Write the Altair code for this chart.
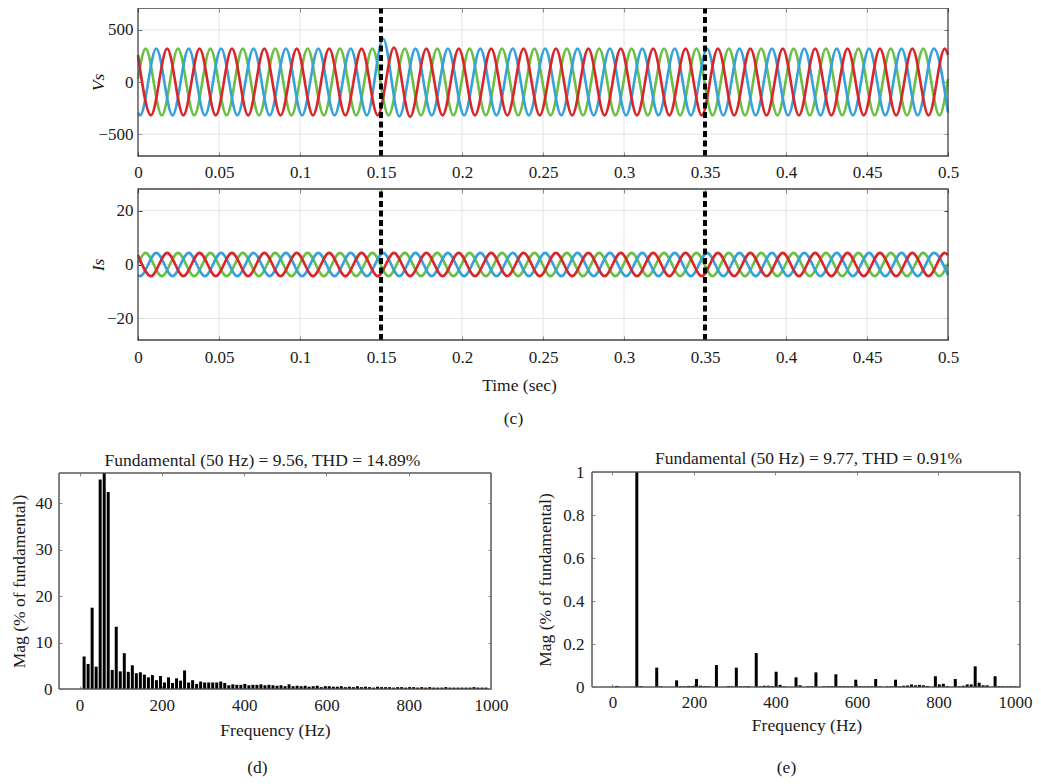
import altair as alt
import pandas as pd

# ---------------- data ----------------
# times (s) of the extrema of each phase (plus the two ends of the record)
t_red = [0, 0.008, 0.018, 0.028, 0.038, 0.048, 0.058, 0.068, 0.078, 0.088, 0.098,
         0.108, 0.118, 0.128, 0.138, 0.148, 0.158, 0.168, 0.178, 0.188, 0.198,
         0.208, 0.218, 0.228, 0.238, 0.248, 0.258, 0.268, 0.278, 0.288, 0.298,
         0.308, 0.318, 0.328, 0.338, 0.348, 0.358, 0.368, 0.378, 0.388, 0.398,
         0.408, 0.418, 0.428, 0.438, 0.448, 0.458, 0.468, 0.478, 0.488, 0.498, 0.5]
t_blue = [0, 0.0013, 0.0113, 0.0213, 0.0313, 0.0413, 0.0513, 0.0613, 0.0713, 0.0813, 0.0913,
          0.1013, 0.1113, 0.1213, 0.1313, 0.1413, 0.1513, 0.1613, 0.1713, 0.1813, 0.1913,
          0.2013, 0.2113, 0.2213, 0.2313, 0.2413, 0.2513, 0.2613, 0.2713, 0.2813, 0.2913,
          0.3013, 0.3113, 0.3213, 0.3313, 0.3413, 0.3513, 0.3613, 0.3713, 0.3813, 0.3913,
          0.4013, 0.4113, 0.4213, 0.4313, 0.4413, 0.4513, 0.4613, 0.4713, 0.4813, 0.4913, 0.5]
t_green = [0, 0.0047, 0.0147, 0.0247, 0.0347, 0.0447, 0.0547, 0.0647, 0.0747, 0.0847, 0.0947,
           0.1047, 0.1147, 0.1247, 0.1347, 0.1447, 0.1547, 0.1647, 0.1747, 0.1847, 0.1947,
           0.2047, 0.2147, 0.2247, 0.2347, 0.2447, 0.2547, 0.2647, 0.2747, 0.2847, 0.2947,
           0.3047, 0.3147, 0.3247, 0.3347, 0.3447, 0.3547, 0.3647, 0.3747, 0.3847, 0.3947,
           0.4047, 0.4147, 0.4247, 0.4347, 0.4447, 0.4547, 0.4647, 0.4747, 0.4847, 0.4947, 0.5]

# source voltage Vs (V) at those times
vs_red = [259,
          -320, 320, -320, 320, -320, 320, -320, 320, -320, 320,
          -320, 320, -320, 320, -320, 330, -335, 320, -320, 320,
          -320, 320, -320, 320, -320, 320, -320, 320, -320, 320,
          -320, 320, -320, 320, -320, 320, -320, 320, -320, 320,
          -320, 320, -320, 320, -320, 320, -320, 320, -320, 320,
          259]
vs_blue = [-294,
           -320, 320, -320, 320, -320, 320, -320, 320, -320, 320,
           -320, 320, -320, 320, -320, 415, -330, 320, -320, 320,
           -320, 320, -320, 320, -320, 320, -320, 320, -320, 320,
           -320, 320, -320, 320, -320, 320, -320, 320, -320, 320,
           -320, 320, -320, 320, -320, 320, -320, 320, -320, 320,
           -294]
vs_green = [30,
            320, -320, 320, -320, 320, -320, 320, -320, 320, -320,
            320, -320, 320, -320, 320, -320, 320, -320, 320, -320,
            320, -320, 320, -320, 320, -320, 320, -320, 320, -320,
            320, -320, 320, -320, 320, -320, 320, -320, 320, -320,
            320, -320, 320, -320, 320, -320, 320, -320, 320, -320,
            30]

# source current Is (A) at those times
is_red = [3.5,
          -4.3, 4.3, -4.3, 4.3, -4.3, 4.3, -4.3, 4.3, -4.3, 4.3,
          -4.3, 4.3, -4.3, 4.3, -4.3, 4.3, -4.3, 4.3, -4.3, 4.3,
          -4.3, 4.3, -4.3, 4.3, -4.3, 4.3, -4.3, 4.3, -4.3, 4.3,
          -4.3, 4.3, -4.3, 4.3, -4.3, 4.3, -4.3, 4.3, -4.3, 4.3,
          -4.3, 4.3, -4.3, 4.3, -4.3, 4.3, -4.3, 4.3, -4.3, 4.3,
          3.5]
is_blue = [-3.95,
           -4.3, 4.3, -4.3, 4.3, -4.3, 4.3, -4.3, 4.3, -4.3, 4.3,
           -4.3, 4.3, -4.3, 4.3, -4.3, 4.3, -4.3, 4.3, -4.3, 4.3,
           -4.3, 4.3, -4.3, 4.3, -4.3, 4.3, -4.3, 4.3, -4.3, 4.3,
           -4.3, 4.3, -4.3, 4.3, -4.3, 4.3, -4.3, 4.3, -4.3, 4.3,
           -4.3, 4.3, -4.3, 4.3, -4.3, 4.3, -4.3, 4.3, -4.3, 4.3,
           -3.95]
is_green = [0.4,
            4.3, -4.3, 4.3, -4.3, 4.3, -4.3, 4.3, -4.3, 4.3, -4.3,
            4.3, -4.3, 4.3, -4.3, 4.3, -4.3, 4.3, -4.3, 4.3, -4.3,
            4.3, -4.3, 4.3, -4.3, 4.3, -4.3, 4.3, -4.3, 4.3, -4.3,
            4.3, -4.3, 4.3, -4.3, 4.3, -4.3, 4.3, -4.3, 4.3, -4.3,
            4.3, -4.3, 4.3, -4.3, 4.3, -4.3, 4.3, -4.3, 4.3, -4.3,
            0.4]

event_times = [0.15, 0.35]

# harmonic spectra
freq = [0, 10, 20, 30, 40, 50, 60, 70, 80, 90,
        100, 110, 120, 130, 140, 150, 160, 170, 180, 190,
        200, 210, 220, 230, 240, 250, 260, 270, 280, 290,
        300, 310, 320, 330, 340, 350, 360, 370, 380, 390,
        400, 410, 420, 430, 440, 450, 460, 470, 480, 490,
        500, 510, 520, 530, 540, 550, 560, 570, 580, 590,
        600, 610, 620, 630, 640, 650, 660, 670, 680, 690,
        700, 710, 720, 730, 740, 750, 760, 770, 780, 790,
        800, 810, 820, 830, 840, 850, 860, 870, 880, 890,
        900, 910, 920, 930, 940, 950, 960, 970, 980, 990, 1000]
mag_d = [7.0, 5.4, 17.5, 4.8, 45.1, 46.5, 42.4, 4.1, 13.4, 3.8,
         7.7, 3.7, 5.1, 3.4, 3.6, 3.1, 2.5, 3.0, 1.9, 2.8,
         1.4, 2.5, 1.3, 2.3, 1.8, 4.0, 1.4, 1.9, 1.1, 1.6,
         1.4, 1.4, 1.4, 1.4, 1.6, 1.3, 0.8, 1.0, 0.9, 0.9,
         1.1, 0.8, 0.9, 0.9, 1.0, 0.8, 0.9, 0.8, 0.7, 0.8,
         0.6, 1.0, 0.6, 0.7, 0.6, 0.7, 0.5, 0.6, 0.7, 0.4,
         0.6, 0.6, 0.5, 0.5, 0.6, 0.4, 0.5, 0.4, 0.6, 0.4,
         0.5, 0.4, 0.3, 0.5, 0.4, 0.4, 0.4, 0.3, 0.4, 0.4,
         0.3, 0.4, 0.4, 0.3, 0.4, 0.3, 0.4, 0.3, 0.3, 0.3,
         0.4, 0.3, 0.3, 0.3, 0.3, 0.3, 0.3, 0.4, 0.3, 0.3, 0.3]
mag_e = [0.005, 0, 0, 0, 0, 1.0, 0.004, 0, 0, 0,
         0.09, 0.003, 0, 0, 0, 0.031, 0.003, 0.003, 0.005, 0.005,
         0.037, 0.006, 0.004, 0.004, 0, 0.102, 0, 0, 0.004, 0.003,
         0.09, 0.003, 0.003, 0.004, 0, 0.158, 0.003, 0.006, 0.006, 0.004,
         0.071, 0.01, 0.003, 0, 0, 0.045, 0.008, 0, 0.003, 0.003,
         0.068, 0, 0.003, 0.003, 0.004, 0.059, 0.004, 0.003, 0.003, 0.003,
         0.034, 0.003, 0.003, 0.003, 0.003, 0.037, 0.003, 0, 0.003, 0.003,
         0.034, 0.003, 0.006, 0.007, 0.012, 0.008, 0.01, 0.008, 0.005, 0,
         0.05, 0.012, 0.015, 0.004, 0, 0.037, 0.003, 0.006, 0.012, 0.012,
         0.096, 0.02, 0.008, 0.008, 0, 0.05, 0.004, 0.003, 0.003, 0.003, 0.003]

# tick values
time_ticks = [0, 0.05, 0.1, 0.15, 0.2, 0.25, 0.3, 0.35, 0.4, 0.45, 0.5]
vs_ticks = [-500, 0, 500]
is_ticks = [-20, 0, 20]
freq_ticks = [0, 200, 400, 600, 800, 1000]
d_ticks = [0, 10, 20, 30, 40]
e_ticks = [0, 0.2, 0.4, 0.6, 0.8, 1]

title_d = "Fundamental (50 Hz) = 9.56, THD = 14.89%"
title_e = "Fundamental (50 Hz) = 9.77, THD = 0.91%"

# ---------------- styling / layout ----------------
FONT = "Liberation Serif"
INK = "#1a1a1a"
FS = 17
TFS = 17.5
GRID = "#e4e4e4"
RED, BLUE, GREEN = "#d9262b", "#36a2db", "#6bbf45"
W, H = 961, 690


def scale(domain, rng):
    return alt.Scale(domain=domain, range=rng, nice=False, zero=False)


X_T = scale([0, 0.5], [79, 889])
Y_VS = scale([-710, 710], [148, 0])
Y_IS = scale([-28, 28], [332, 181])
X_D = scale([-50, 1000], [0, 432])
Y_D = scale([0, 46.5], [681, 465])
X_E = scale([-50, 1000], [533, 961])
Y_E = scale([0, 1], [679, 464])


def axis(**kw):
    base = dict(labelFont=FONT, labelFontSize=FS, labelColor=INK,
                titleFont=FONT, titleFontSize=TFS, titleFontWeight="normal",
                titleColor=INK, labelFlush=False, labelOverlap=False,
                grid=False, ticks=False, tickSize=0, domain=False,
                titleAlign="center", titleBaseline="middle")
    base.update(kw)
    return alt.Axis(**base)


def text_axis(orient, offset, text, tx, ty, angle=0):
    return axis(orient=orient, offset=offset, labels=False, title=text,
                titleX=tx, titleY=ty, titleAngle=angle)


def tick_axis(orient, offset, values, color, size):
    return axis(orient=orient, offset=offset, values=values, labels=False,
                ticks=True, tickSize=size, tickColor=color, tickWidth=1,
                title=None)


def wave(t, v, color, xs, ys):
    df = pd.DataFrame({"t": t, "v": v})
    return alt.Chart(df).mark_line(color=color, strokeWidth=2.6,
                                   interpolate="monotone").encode(
        x=alt.X("t:Q", scale=xs, axis=None),
        y=alt.Y("v:Q", scale=ys, axis=None))


def vgrid(vals, xs, ys, yd, xaxis=None, yaxis=None):
    return alt.Chart(pd.DataFrame({"g": vals})).mark_rule(
        color=GRID, strokeWidth=1).encode(
        x=alt.X("g:Q", scale=xs, axis=xaxis),
        y=alt.YDatum(yd[0], scale=ys, axis=yaxis), y2=alt.Y2Datum(yd[1]))


def hgrid(vals, xs, ys, xd, xaxis=None, yaxis=None):
    return alt.Chart(pd.DataFrame({"g": vals})).mark_rule(
        color=GRID, strokeWidth=1).encode(
        y=alt.Y("g:Q", scale=ys, axis=yaxis),
        x=alt.XDatum(xd[0], scale=xs, axis=xaxis), x2=alt.X2Datum(xd[1]))


def frame(xs, ys, xd, yd, xaxis, yaxis, color, sw):
    return alt.Chart(pd.DataFrame({"k": [0]})).mark_rect(
        fill="transparent", stroke=color, strokeWidth=sw).encode(
        x=alt.XDatum(xd[0], scale=xs, axis=xaxis), x2=alt.X2Datum(xd[1]),
        y=alt.YDatum(yd[0], scale=ys, axis=yaxis), y2=alt.Y2Datum(yd[1]))


def events(xs, ys, yd, xaxis=None):
    return alt.Chart(pd.DataFrame({"t": event_times})).mark_rule(
        color="black", strokeWidth=4, strokeDash=[6, 3.5]).encode(
        x=alt.X("t:Q", scale=xs, axis=xaxis),
        y=alt.YDatum(yd[0], scale=ys, axis=None), y2=alt.Y2Datum(yd[1]))


def bars(f, m, xs, ys, xaxis=None, yaxis=None):
    df = pd.DataFrame({"f": f, "m": m})
    return alt.Chart(df).mark_bar(size=3, color="black").encode(
        x=alt.X("f:Q", scale=xs, axis=xaxis),
        y=alt.Y("m:Q", scale=ys, axis=yaxis))


TD = [0, 0.5]
VSD = [-710, 710]
ISD = [-28, 28]
FD = [-50, 1000]
DK = "#333333"
LT = "#8a8a8a"

layers = [
    # ---- panel Vs ----
    vgrid(time_ticks[1:-1], X_T, Y_VS, VSD,
          xaxis=tick_axis("top", -148, time_ticks, DK, 4),
          yaxis=tick_axis("right", 79 - W, vs_ticks, DK, 4)),
    hgrid(vs_ticks, X_T, Y_VS, TD,
          xaxis=tick_axis("bottom", 0 - H, time_ticks, DK, 4),
          yaxis=tick_axis("left", -889, vs_ticks, DK, 4)),
    wave(t_green, vs_green, GREEN, X_T, Y_VS),
    wave(t_blue, vs_blue, BLUE, X_T, Y_VS),
    wave(t_red, vs_red, RED, X_T, Y_VS),
    events(X_T, Y_VS, VSD),
    frame(X_T, Y_VS, TD, VSD,
          axis(orient="bottom", offset=148 - H, values=time_ticks, format="~f",
               labelBaseline="middle", labelPadding=16.5, title=None),
          axis(orient="left", offset=-79, values=vs_ticks, format="~f",
               labelPadding=5, title="Vs", titleFontStyle="italic",
               titleX=-40, titleY=74),
          "#444444", 1.3),
    # ---- panel Is ----
    vgrid(time_ticks[1:-1], X_T, Y_IS, ISD,
          xaxis=tick_axis("top", -332, time_ticks, DK, 4),
          yaxis=tick_axis("right", 79 - W, is_ticks, DK, 4)),
    hgrid(is_ticks, X_T, Y_IS, TD,
          xaxis=tick_axis("bottom", 181 - H, time_ticks, DK, 4),
          yaxis=tick_axis("left", -889, is_ticks, DK, 4)),
    wave(t_green, is_green, GREEN, X_T, Y_IS),
    wave(t_blue, is_blue, BLUE, X_T, Y_IS),
    wave(t_red, is_red, RED, X_T, Y_IS),
    events(X_T, Y_IS, ISD, xaxis=text_axis("bottom", 332 - H, "(c)", 454, 78)),
    frame(X_T, Y_IS, TD, ISD,
          axis(orient="bottom", offset=332 - H, values=time_ticks, format="~f",
               labelBaseline="middle", labelPadding=17, title="Time (sec)",
               titleX=460, titleY=45),
          axis(orient="left", offset=-79, values=is_ticks, format="~f",
               labelPadding=5, title="Is", titleFontStyle="italic",
               titleX=-40, titleY=256.5),
          "#444444", 1.3),
    # ---- panel (d) ----
    frame(X_D, Y_D, FD, [0, 46.5],
          tick_axis("top", -681, freq_ticks, LT, 3),
          tick_axis("right", 0 - W, d_ticks, LT, 3), "#6e6e6e", 1),
    frame(X_D, Y_D, FD, [0, 46.5],
          tick_axis("bottom", 465 - H, freq_ticks, LT, 3),
          tick_axis("left", -432, d_ticks, LT, 3), "#6e6e6e", 1),
    bars(freq, mag_d, X_D, Y_D,
         xaxis=text_axis("top", -465, title_d, 203, -13),
         yaxis=text_axis("left", 0, "(d)", 198, 759)),
    frame(X_D, Y_D, FD, [0, 46.5],
          axis(orient="bottom", offset=681 - H, values=freq_ticks, format="~f",
               labelBaseline="middle", labelPadding=16.7,
               title="Frequency (Hz)", titleX=216, titleY=41),
          axis(orient="left", offset=0, values=d_ticks, format="~f",
               labelPadding=7, title="Mag (% of fundamental)",
               titleX=-40, titleY=573),
          "#6e6e6e", 1),
    # ---- panel (e) ----
    frame(X_E, Y_E, FD, [0, 1],
          tick_axis("top", -679, freq_ticks, LT, 3),
          tick_axis("right", 533 - W, e_ticks, LT, 3), "#6e6e6e", 1),
    frame(X_E, Y_E, FD, [0, 1],
          tick_axis("bottom", 464 - H, freq_ticks, LT, 3),
          tick_axis("left", -961, e_ticks, LT, 3), "#6e6e6e", 1),
    bars(freq, mag_e, X_E, Y_E,
         xaxis=text_axis("top", -464, title_e, 749, -14),
         yaxis=text_axis("left", -533, "(e)", 194, 759)),
    frame(X_E, Y_E, FD, [0, 1],
          axis(orient="bottom", offset=679 - H, values=freq_ticks, format="~f",
               labelBaseline="middle", labelPadding=15.3,
               labelFlush=True, labelFlushOffset=12,
               title="Frequency (Hz)", titleX=747.5, titleY=38),
          axis(orient="left", offset=-533, values=e_ticks, format="~f",
               labelPadding=8, title="Mag (% of fundamental)",
               titleX=-46.5, titleY=571.5),
          "#6e6e6e", 1),
]

chart = alt.layer(*layers).resolve_scale(
    x="independent", y="independent"
).resolve_axis(
    x="independent", y="independent"
).properties(
    width=W, height=H,
    autosize=alt.AutoSizeParams(type="none"),
    padding={"left": 51, "top": 0, "right": 13, "bottom": 80},
).configure_view(strokeWidth=0)

chart.save("out.html", embed_options={"renderer": "svg", "actions": False})
